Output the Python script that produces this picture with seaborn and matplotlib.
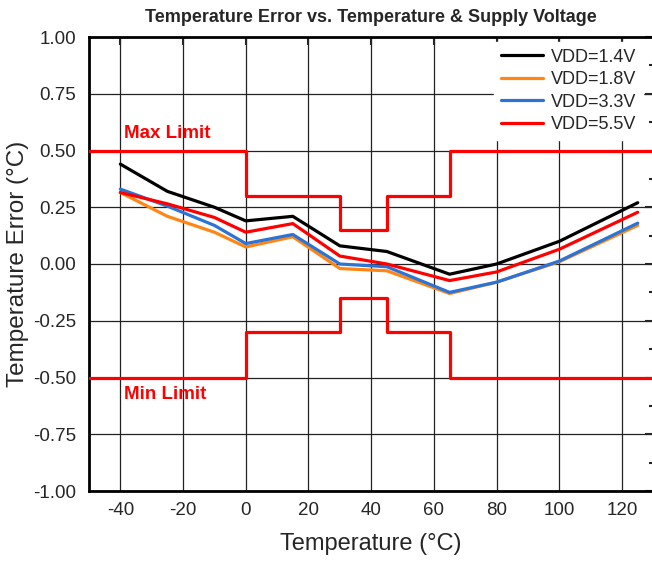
import numpy as np
import pandas as pd
import matplotlib
matplotlib.use("Agg")
import matplotlib.pyplot as plt
import seaborn as sns
from matplotlib.ticker import MultipleLocator, FormatStrFormatter

temps = [-40, -25, -10, 0, 15, 30, 45, 65, 80, 100, 125]
err_1v4 = [0.44, 0.32, 0.25, 0.19, 0.21, 0.08, 0.055, -0.045, 0.0, 0.10, 0.27]
err_1v8 = [0.315, 0.21, 0.14, 0.075, 0.12, -0.02, -0.03, -0.13, -0.08, 0.01, 0.17]
err_3v3 = [0.33, 0.255, 0.17, 0.09, 0.13, 0.0, -0.012, -0.125, -0.08, 0.013, 0.18]
err_5v5 = [0.315, 0.265, 0.205, 0.14, 0.178, 0.035, 0.0, -0.073, -0.035, 0.065, 0.228]
series_names = ["VDD=1.4V", "VDD=1.8V", "VDD=3.3V", "VDD=5.5V"]
series_colors = ["#000000", "#FF8614", "#2B74D6", "#FF0000"]

# spec limits (step functions)
limit_temps = [-50, 0, 30, 45, 65, 130]
max_limit = [0.5, 0.3, 0.15, 0.3, 0.5, 0.5]
min_limit = [-0.5, -0.3, -0.15, -0.3, -0.5, -0.5]

sns.set_style("white")
plt.rcParams["font.family"] = ["Liberation Sans", "DejaVu Sans"]
plt.rcParams["axes.unicode_minus"] = False

df = pd.DataFrame({
    "Temperature": temps * 4,
    "Error": err_1v4 + err_1v8 + err_3v3 + err_5v5,
    "Supply": sum([[n] * len(temps) for n in series_names], []),
})

fig = plt.figure(figsize=(6.52, 5.63), dpi=100)
ax = fig.add_axes([89 / 652, 72 / 563, 564.4 / 652, 454 / 563])

# limits first so the curves sit on top
sns.lineplot(x=limit_temps, y=max_limit, ax=ax, color="#FF0000", lw=2.3,
             drawstyle="steps-post", legend=False, zorder=3)
sns.lineplot(x=limit_temps, y=min_limit, ax=ax, color="#FF0000", lw=2.3,
             drawstyle="steps-post", legend=False, zorder=3)

sns.lineplot(data=df, x="Temperature", y="Error", hue="Supply",
             hue_order=series_names, palette=series_colors, lw=2.3,
             ax=ax, zorder=4)

ax.text(-38.8, 0.577, "Max Limit", color="#FF0000", fontsize=13.5,
        fontweight="bold", va="center", ha="left")
ax.text(-38.8, -0.577, "Min Limit", color="#FF0000", fontsize=13.5,
        fontweight="bold", va="center", ha="left")

ax.set_xlim(-50, 130)
ax.set_ylim(-1.0, 1.0)
ax.set_xticks(np.arange(-40, 121, 20))
ax.yaxis.set_major_locator(MultipleLocator(0.25))
ax.yaxis.set_minor_locator(MultipleLocator(0.125))
ax.yaxis.set_major_formatter(FormatStrFormatter("%.2f"))
ax.grid(True, which="major", color="#222222", lw=0.9)
ax.tick_params(which="both", direction="in", top=True, right=True,
               labelsize=13.5, width=1.5)
ax.tick_params(which="major", length=6)
ax.tick_params(which="minor", length=3)
ax.tick_params(axis="y", which="major", pad=9)
ax.tick_params(axis="x", which="major", pad=8)
ax.tick_params(axis="x", which="minor", top=False, bottom=False)
for s in ax.spines.values():
    s.set_linewidth(2)
    s.set_color("black")

ax.set_xlabel("Temperature (°C)", fontsize=17, labelpad=10)
ax.set_ylabel("Temperature Error (°C)", fontsize=17.5, labelpad=3)
ax.set_title("Temperature Error vs. Temperature & Supply Voltage",
             fontsize=13, fontweight="bold", pad=11)

leg = ax.legend(loc="upper right", fontsize=13, frameon=True, fancybox=False,
                handlelength=2.3, borderaxespad=0.25, labelspacing=0.3,
                handletextpad=0.45, bbox_to_anchor=(0.99, 1.0))
leg.get_frame().set_edgecolor("white")
leg.get_frame().set_alpha(1.0)
leg.set_zorder(6)

fig.savefig("out.png", dpi=100)
